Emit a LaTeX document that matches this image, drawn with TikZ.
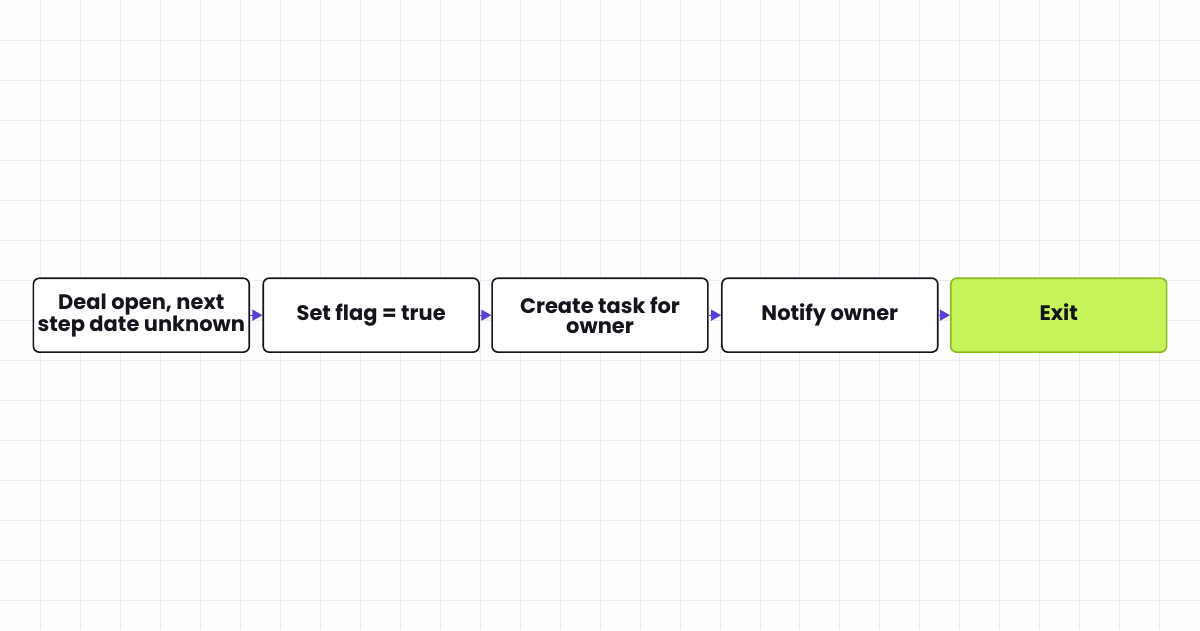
\documentclass[tikz,border=0pt]{standalone}
\usepackage{fontspec}
\setmainfont{Poppins}
\usetikzlibrary{arrows.meta}
\definecolor{gridc}{HTML}{EDEBF8}
\definecolor{arr}{HTML}{5B3FD9}
\definecolor{exitf}{HTML}{C6F25A}
\definecolor{exitd}{HTML}{8DB81E}
\definecolor{ink}{HTML}{14141C}
\begin{document}
\begin{tikzpicture}[x=1pt,y=-1pt,
  box/.style={draw=ink,line width=1.6pt,rounded corners=6pt,fill=white,minimum width=216pt,minimum height=74pt,inner sep=0pt,align=center,font=\fontsize{21}{20}\selectfont\bfseries,text=ink},
  ex/.style={box,fill=exitf,draw=exitd},
  con/.style={draw=arr,line width=1.2pt,-{Triangle[length=10pt,width=11pt]}}]
\fill[white!97!gridc] (0,0) rectangle (1200,630);
\foreach \i in {40,80,...,1160} \draw[gridc,line width=0.8pt] (\i,0) -- (\i,630);
\foreach \j in {40,80,...,600} \draw[gridc,line width=0.8pt] (0,\j) -- (1200,\j);
\useasboundingbox (0,0) rectangle (1200,630);
\node[box] (a) at (141,315) {Deal open, next\\step date unknown};
\node[box] (b) at (371,315) {Set flag = true};
\node[box] (c) at (600,315) {Create task for\\owner};
\node[box] (d) at (830,315) {Notify owner};
\node[ex] (e) at (1059,315) {Exit\vphantom{y}};
\draw[con] (a) -- (b);
\draw[con] (b) -- (c);
\draw[con] (c) -- (d);
\draw[con] (d) -- (e);
\end{tikzpicture}
\end{document}
